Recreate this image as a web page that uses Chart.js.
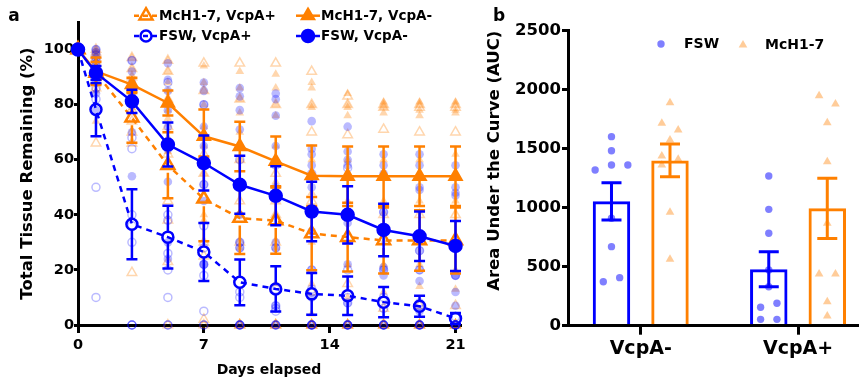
<!DOCTYPE html>
<html><head><meta charset="utf-8">
<script src="https://cdn.jsdelivr.net/npm/chart.js@4.4.1/dist/chart.umd.min.js"></script>
<style>
html,body{margin:0;padding:0;background:#fff;overflow:hidden;}
#wrap{position:relative;width:862px;height:379px;overflow:hidden;}
#ca{position:absolute;left:0;top:0;}
#cb{position:absolute;left:470px;top:0;}
</style></head><body>
<div id="wrap"><canvas id="ca" width="470" height="379"></canvas><canvas id="cb" width="392" height="379"></canvas></div>
<script>
// ---------- Panel a data ----------
const days = [0, 1, 3, 5, 7, 9, 11, 13, 15, 17, 19, 21];
const repDays = [1, 3, 5, 7, 9, 11, 13, 15, 17, 19, 21];
const xTicksA = [0, 7, 14, 21];
const yTicksA = [0, 20, 40, 60, 80, 100];
const seriesNames = ['FSW, VcpA-', 'FSW, VcpA+', 'McH1-7, VcpA-', 'McH1-7, VcpA+'];

const meanFswMinus = [100, 91.5, 81.2, 65.5, 58.8, 50.9, 46.9, 41.2, 40.0, 34.5, 32.2, 28.7];
const semFswMinus  = [0, 2.5, 4.2, 8, 10, 10.5, 10.7, 10.8, 10.4, 9.5, 9, 9.1];
const meanFswPlus  = [100, 78.2, 36.6, 31.9, 26.5, 15.5, 13.1, 11.3, 10.6, 8.3, 6.8, 2.4];
const semFswPlus   = [0, 9.7, 12.7, 11.4, 10.5, 8.3, 8.2, 7.6, 7, 5.5, 3.8, 2];
const meanMcMinus  = [100, 92.1, 87.3, 80.6, 68.5, 64.8, 59.4, 54.2, 54, 54, 54, 54];
const semMcMinus   = [0, 5, 2.5, 4.5, 9.7, 9, 9, 11, 10.8, 10.8, 10.8, 10.8];
const meanMcPlus   = [100, 91.5, 75.2, 58, 45.8, 38.8, 37.9, 33.2, 31.9, 30.7, 30.7, 30.7];
const semMcPlus    = [0, 4, 9, 12, 15.4, 13, 12, 13.3, 12.5, 12, 11, 12];

// individual replicates (one row per day in repDays)
const repFswMinus = [
  [100, 99, 97, 95, 93, 90, 88, 84, 78],
  [96, 92, 88, 86, 84, 82, 80, 70, 54],
  [95, 89, 85, 78, 72, 65, 52, 30, 24],
  [88, 85, 80, 72, 65, 51, 45, 22, 22],
  [86, 83, 78, 71, 50, 40, 30, 28, 0],
  [84, 82, 76, 65, 50, 30, 28, 7, 0],
  [74, 64, 62, 58, 50, 34, 20, 10, 0],
  [72, 63, 60, 58, 40, 37, 22, 8, 0],
  [62, 58, 55, 41, 35, 21, 20, 18, 0],
  [62, 58, 50, 49, 27, 20, 16, 5, 0],
  [58, 50, 48, 47, 18, 18, 12, 7, 0]
];
const repFswPlus = [
  [100, 98, 96, 93, 90, 86, 82, 50, 10],
  [96, 68, 64, 40, 36, 30, 0, 0, 0],
  [88, 64, 40, 38, 26, 20, 10, 0, 0],
  [80, 51, 36, 28, 22, 18, 5, 0, 0],
  [60, 30, 28, 12, 10, 0, 0, 0, 0],
  [58, 28, 13, 7, 6, 5, 0, 0, 0],
  [55, 20, 13, 12, 0, 0, 0, 0, 0],
  [57, 20, 10, 8, 0, 0, 0, 0, 0],
  [41, 20, 10, 6, 0, 0, 0, 0, 0],
  [27, 20, 8, 7, 0, 0, 0, 0, 0],
  [18, 3, 0, 0, 0, 0, 0, 0, 0]
];
const repMcMinus = [
  [100, 99, 98, 96, 94, 92, 90, 85, 74],
  [97, 93, 90, 88, 87, 86, 84, 82, 79],
  [96, 92, 88, 85, 80, 78, 75, 68, 63],
  [94, 88, 85, 80, 72, 65, 55, 40, 38],
  [92, 86, 82, 77, 70, 60, 50, 40, 28],
  [91, 86, 80, 76, 65, 52, 40, 28, 15],
  [88, 86, 80, 79, 60, 48, 30, 15, 4],
  [84, 80, 79, 76, 60, 45, 30, 22, 10],
  [81, 80, 79, 77, 60, 45, 30, 22, 12],
  [81, 80, 78, 76, 60, 45, 30, 22, 14],
  [81, 80, 78, 77, 62, 45, 30, 20, 13]
];
const repMcPlus = [
  [100, 99, 98, 97, 95, 93, 92, 86, 66],
  [97, 93, 90, 82, 78, 74, 70, 66, 19],
  [96, 92, 82, 72, 62, 45, 38, 23, 0],
  [95, 85, 62, 55, 46, 30, 25, 2, 0],
  [95, 82, 60, 45, 40, 30, 0, 0, 0],
  [95, 80, 55, 45, 40, 30, 0, 0, 0],
  [92, 80, 70, 45, 12, 0, 0, 0, 0],
  [83, 80, 69, 40, 15, 0, 0, 0, 0],
  [80, 79, 71, 40, 6, 0, 0, 0, 0],
  [80, 79, 70, 40, 7, 0, 0, 0, 0],
  [80, 79, 70, 40, 7, 0, 0, 0, 0]
];

// ---------- Panel b data ----------
const aucGroups = ['VcpA-', 'VcpA+'];
const aucYTicks = [0, 500, 1000, 1500, 2000, 2500];
const aucNames = ['FSW', 'McH1-7'];
const aucFswMean = [1054, 478];
const aucFswSem  = [158, 148];
const aucMcMean  = [1401, 995];
const aucMcSem   = [139, 255];
const aucFswPts = [[1602, 1483, 1362, 1362, 1320, 910, 670, 407, 373], [1269, 986, 783, 472, 330, 190, 156, 54, 54]];
const aucFswJit = [[0, 0, 0, 2, -2, 0, 0, 1, -1], [0, 0, 0, 0, 0, 1, -1, -1, 1]];
const aucMcPts  = [[1890, 1715, 1658, 1573, 1438, 1410, 1362, 961, 563], [1949, 1879, 1720, 1390, 868, 438, 438, 203, 82]];
const aucMcJit  = [[0, -1, 1, 0, -1, 1, -1, 0, 0], [-1, 1, 0, 0, 0, -1, 1, 0, 0]];

// ---------- styles ----------
const BLUE = '#0000ff', ORANGE = '#ff8000';
const FAINT_BLUE = 'rgba(0,0,255,0.27)', FAINT_OR = 'rgba(255,128,0,0.32)';
const FONT = '"DejaVu Sans", sans-serif';
Chart.defaults.font.family = FONT;
Chart.defaults.font.weight = 'bold';
Chart.defaults.color = '#000';

function drawMarker(ctx, style, x, y, r, fill, stroke, lw) {
  ctx.beginPath();
  if (style === 'triangle') {
    let a = 0;
    ctx.moveTo(x + Math.sin(a) * r, y - Math.cos(a) * r);
    a += 2 * Math.PI / 3; ctx.lineTo(x + Math.sin(a) * r, y - Math.cos(a) * r);
    a += 2 * Math.PI / 3; ctx.lineTo(x + Math.sin(a) * r, y - Math.cos(a) * r);
    ctx.closePath();
  } else {
    ctx.arc(x, y, r, 0, Math.PI * 2);
  }
  if (fill) { ctx.fillStyle = fill; ctx.fill(); }
  if (stroke && lw) { ctx.strokeStyle = stroke; ctx.lineWidth = lw; ctx.setLineDash([]); ctx.stroke(); }
}

const annot = {
  id: 'annot',
  afterDraw(chart, args, opts) {
    const ctx = chart.ctx;
    ctx.save();
    (opts.texts || []).forEach(t => {
      ctx.font = 'bold ' + t.size + 'px ' + FONT;
      ctx.fillStyle = '#000'; ctx.textAlign = t.align || 'left'; ctx.textBaseline = 'middle';
      ctx.fillText(t.text, t.x, t.y);
    });
    (opts.legend || []).forEach(it => {
      const ds = chart.data.datasets[it.ds];
      if (it.line) {
        ctx.beginPath();
        ctx.strokeStyle = ds.borderColor; ctx.lineWidth = ds.borderWidth;
        ctx.setLineDash(ds.borderDash && ds.borderDash.length ? [5, 4] : []);
        ctx.moveTo(it.x - it.line, it.y); ctx.lineTo(it.x + it.line, it.y); ctx.stroke();
        ctx.setLineDash([]);
      }
      const fill = ds.pointBackgroundColor;
      drawMarker(ctx, ds.pointStyle, it.x, it.y, it.r || ds.pointRadius, fill, ds.pointBorderColor, ds.pointBorderWidth);
      ctx.font = 'bold ' + opts.legendSize + 'px ' + FONT;
      ctx.fillStyle = '#000'; ctx.textAlign = 'left'; ctx.textBaseline = 'middle';
      ctx.fillText(ds.label, it.x + it.dx, it.y + 0.5);
    });
    ctx.restore();
  }
};

const errorBars = {
  id: 'errorBars',
  beforeDatasetDraw(chart, args) {
    const ds = chart.data.datasets[args.index];
    if (!ds.errors) return;
    const meta = args.meta, ys = chart.scales[meta.yAxisID], ctx = chart.ctx;
    ctx.save();
    ctx.strokeStyle = ds.borderColor; ctx.lineWidth = ds.errorWidth; ctx.setLineDash([]);
    meta.data.forEach((el, i) => {
      const e = ds.errors[i]; if (!e) return;
      const v = meta.controller.getParsed(i).y;
      const x = el.x, yc = ys.getPixelForValue(v), yh = ys.getPixelForValue(v + e), yl = ys.getPixelForValue(v - e);
      const gap = ds.errorGap || 0, c = ds.capHalf;
      ctx.beginPath();
      if (yc - gap > yh) { ctx.moveTo(x, yc - gap); ctx.lineTo(x, yh); }
      if (yc + gap < yl) { ctx.moveTo(x, yc + gap); ctx.lineTo(x, yl); }
      ctx.moveTo(x - c, yh); ctx.lineTo(x + c, yh);
      ctx.moveTo(x - c, yl); ctx.lineTo(x + c, yl);
      ctx.stroke();
    });
    ctx.restore();
  }
};

// ---------- Panel a ----------
function meanDs(label, means, sems, color, filled, dashed, style, r, order) {
  return {
    type: 'line', label, order,
    data: days.map((d, i) => ({ x: d, y: means[i] })),
    errors: sems, errorWidth: 2.5, capHalf: 5.5, errorGap: filled ? 0 : r,
    borderColor: color, backgroundColor: color, borderWidth: 2.5,
    borderDash: dashed ? [6, 5] : [],
    pointStyle: style, pointRadius: r, pointHoverRadius: r, pointBorderWidth: 2.5,
    pointBackgroundColor: filled ? color : 'rgba(0,0,0,0)', pointBorderColor: color,
    fill: false, tension: 0, clip: false
  };
}
function repDs(label, reps, color, filled, style, r, order) {
  return {
    type: 'scatter', label, order,
    data: repDays.flatMap((d, i) => reps[i].map(v => ({ x: d, y: v }))),
    pointStyle: style, pointRadius: r, pointHoverRadius: r,
    pointBackgroundColor: filled ? color : 'rgba(0,0,0,0)', pointBorderColor: color,
    pointBorderWidth: filled ? 0 : 1.5, showLine: false, clip: false
  };
}

new Chart(document.getElementById('ca'), {
  type: 'line',
  data: {
    datasets: [
      meanDs(seriesNames[0], meanFswMinus, semFswMinus, BLUE, true, false, 'circle', 6, 0),
      meanDs(seriesNames[1], meanFswPlus, semFswPlus, BLUE, false, true, 'circle', 5.5, 1),
      meanDs(seriesNames[2], meanMcMinus, semMcMinus, ORANGE, true, false, 'triangle', 6.8, 2),
      meanDs(seriesNames[3], meanMcPlus, semMcPlus, ORANGE, false, true, 'triangle', 7.5, 3),
      repDs(seriesNames[0], repFswMinus, FAINT_BLUE, true, 'circle', 4.3, 10),
      repDs(seriesNames[1], repFswPlus, FAINT_BLUE, false, 'circle', 4, 11),
      repDs(seriesNames[2], repMcMinus, FAINT_OR, true, 'triangle', 5, 12),
      repDs(seriesNames[3], repMcPlus, FAINT_OR, false, 'triangle', 5.5, 13)
    ]
  },
  options: {
    responsive: false, animation: false, devicePixelRatio: 1,
    layout: { padding: { left: 0, top: 22, right: 9, bottom: 0 } },
    plugins: {
      legend: { display: false }, tooltip: { enabled: false },
      annot: {
        texts: [{ text: 'a', x: 14, y: 17, size: 17, align: 'center' }],
        legendSize: 13.5,
        legend: [
          { ds: 3, x: 146, y: 15.7, line: 12, dx: 13 },
          { ds: 2, x: 308, y: 15.7, line: 12, dx: 13 },
          { ds: 1, x: 146, y: 36, line: 12, dx: 13 },
          { ds: 0, x: 308, y: 36, line: 12, dx: 13 }
        ]
      }
    },
    scales: {
      x: {
        type: 'linear', min: 0, max: 21.25, offset: false,
        afterBuildTicks: s => { s.ticks = xTicksA.map(v => ({ value: v })); },
        afterFit: s => { s.height = 54; },
        grid: { display: true, offset: false, drawOnChartArea: false, drawTicks: true, tickLength: 8, lineWidth: 3, tickWidth: 3, tickColor: '#000', color: '#000' },
        border: { display: true, color: '#000', width: 3 },
        ticks: { color: '#000', font: { size: 14.5, weight: 'bold' }, padding: 4, maxRotation: 0, autoSkip: false },
        title: { display: true, text: 'Days elapsed', color: '#000', font: { size: 14, weight: 'bold' }, padding: { top: 0, bottom: 0 } }
      },
      y: {
        type: 'linear', min: 0, max: 110,
        afterBuildTicks: s => { s.ticks = yTicksA.map(v => ({ value: v })); },
        afterFit: s => { s.width = 78; },
        grid: { display: true, drawOnChartArea: false, drawTicks: true, tickLength: 4, lineWidth: 3, tickWidth: 3, tickColor: '#000', color: '#000' },
        border: { display: true, color: '#000', width: 3 },
        ticks: { color: '#000', font: { size: 14.5, weight: 'bold' }, padding: 0 },
        title: { display: true, text: 'Total Tissue Remaining (%)', color: '#000', font: { size: 16.5, weight: 'bold' }, padding: { top: 18, bottom: 0 } }
      }
    }
  },
  plugins: [errorBars, annot]
});

// ---------- Panel b ----------
const CAT_PCT = 0.744, BAR_PCT = 0.64, JIT = 0.052;
const barShift = CAT_PCT / 4;
function aucBar(label, means, sems, color, order) {
  return {
    type: 'bar', label, order,
    data: aucGroups.map((g, i) => ({ x: i, y: means[i] })),
    errors: sems, errorWidth: 3, capHalf: 10,
    backgroundColor: 'rgba(0,0,0,0)', borderColor: color, borderWidth: 3,
    categoryPercentage: CAT_PCT, barPercentage: BAR_PCT
  };
}
function aucPts(label, pts, jit, side, color, style, r, order) {
  return {
    type: 'scatter', label, order,
    data: aucGroups.flatMap((g, i) => pts[i].map((v, k) => ({ x: i + side * barShift + jit[i][k] * JIT, y: v }))),
    pointStyle: style, pointRadius: r, pointHoverRadius: r,
    pointBackgroundColor: color, pointBorderColor: color, pointBorderWidth: 0, clip: false
  };
}

new Chart(document.getElementById('cb'), {
  type: 'bar',
  data: {
    datasets: [
      aucBar(aucNames[0], aucFswMean, aucFswSem, BLUE, 0),
      aucBar(aucNames[1], aucMcMean, aucMcSem, ORANGE, 1),
      aucPts(aucNames[0], aucFswPts, aucFswJit, -1, 'rgba(0,0,255,0.5)', 'circle', 3.7, 10),
      aucPts(aucNames[1], aucMcPts, aucMcJit, 1, 'rgba(255,128,0,0.4)', 'triangle', 5, 11)
    ]
  },
  options: {
    responsive: false, animation: false, devicePixelRatio: 1,
    layout: { padding: { left: 0, top: 30.7, right: 0, bottom: 0 } },
    plugins: {
      legend: { display: false }, tooltip: { enabled: false },
      annot: {
        texts: [{ text: 'b', x: 29, y: 16.5, size: 17, align: 'center' }],
        legendSize: 14,
        legend: [
          { ds: 2, x: 191, y: 44, dx: 23 },
          { ds: 3, x: 273, y: 45, dx: 22 }
        ]
      }
    },
    scales: {
      x: {
        type: 'linear', min: -0.4625, max: 1.375, offset: false,
        afterBuildTicks: s => { s.ticks = aucGroups.map((g, i) => ({ value: i })); },
        afterFit: s => { s.height = 53.3; },
        grid: { display: true, offset: false, drawOnChartArea: false, drawTicks: true, tickLength: 9, lineWidth: 3, tickWidth: 3, tickColor: '#000', color: '#000' },
        border: { display: true, color: '#000', width: 3 },
        ticks: { color: '#000', font: { size: 19, weight: 'bold' }, padding: 3, maxRotation: 0, autoSkip: false,
                 callback: v => aucGroups[v] },
      },
      y: {
        type: 'linear', min: 0, max: 2500,
        afterBuildTicks: s => { s.ticks = aucYTicks.map(v => ({ value: v })); },
        afterFit: s => { s.width = 98; },
        grid: { display: true, drawOnChartArea: false, drawTicks: true, tickLength: 6, lineWidth: 3, tickWidth: 3, tickColor: '#000', color: '#000' },
        border: { display: true, color: '#000', width: 3 },
        ticks: { color: '#000', font: { size: 16.5, weight: 'bold' }, padding: 1, callback: v => String(v) },
        title: { display: true, text: 'Area Under the Curve (AUC)', align: 'end', color: '#000', font: { size: 16.5, weight: 'bold' }, padding: { top: 15, bottom: 0 } }
      }
    }
  },
  plugins: [errorBars, annot]
});
</script>
</body></html>
